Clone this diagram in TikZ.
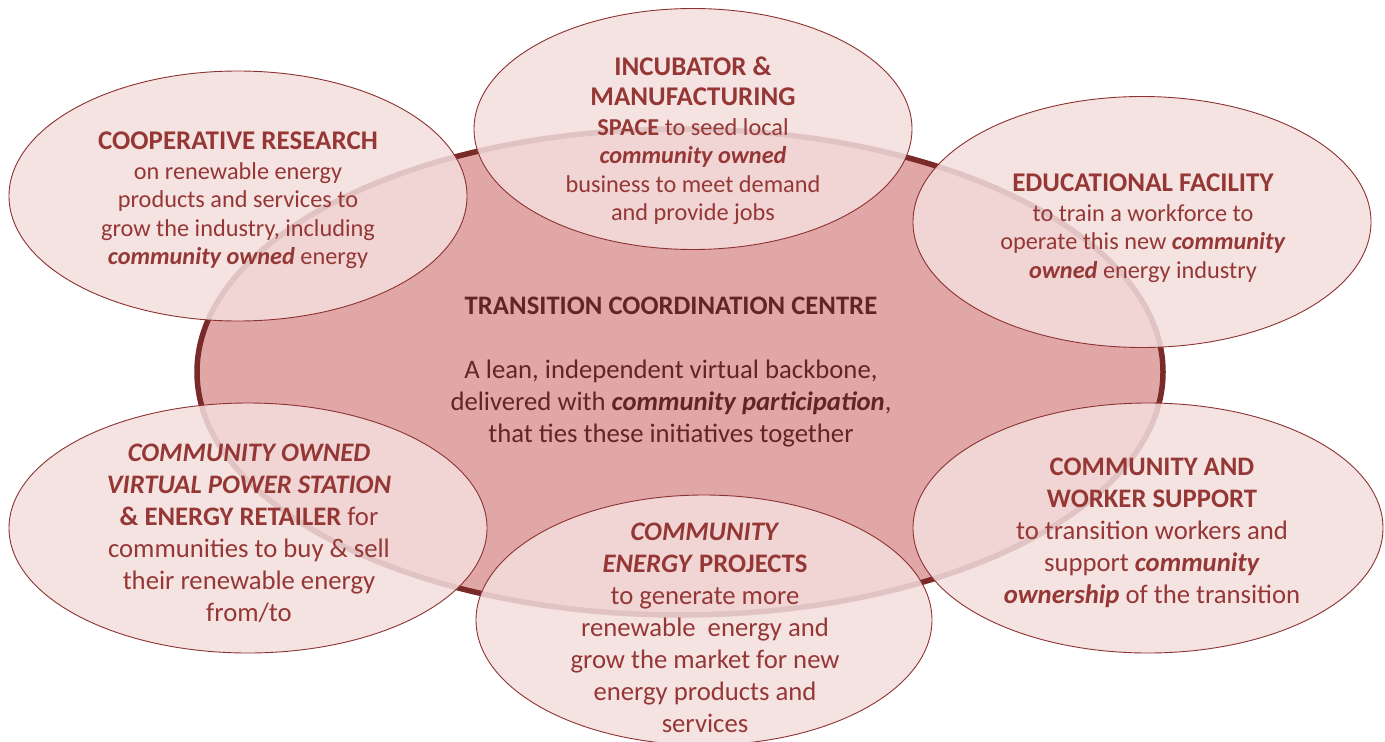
\documentclass[tikz,border=0pt]{standalone}
\usepackage{fontspec}
\setmainfont{Carlito}
\usepackage{tikz}
\usetikzlibrary{shapes,shadows}

\definecolor{hubfill}{RGB}{224,167,166}
\definecolor{hubline}{RGB}{122,42,40}
\definecolor{hubtext}{RGB}{99,37,35}
\definecolor{petalfill}{RGB}{243,222,221}
\definecolor{petalline}{RGB}{140,50,48}
\definecolor{petaltext}{RGB}{149,55,53}

\newcommand{\bi}[1]{\textbf{\textit{#1}}}
\newcommand{\hd}[1]{{\fontsize{27}{28.5}\selectfont\textbf{#1}}}

\begin{document}
\begin{tikzpicture}[x=1pt,y=-1pt,
  hub/.style={ellipse,draw=hubline,line width=5.5pt,fill=hubfill,
    drop shadow={opacity=0.2,shadow xshift=2pt,shadow yshift=-2pt}},
  petal/.style={ellipse,draw=petalline,line width=0.9pt,fill=petalfill,fill opacity=0.85},
  petaltext/.style={align=center,text=petaltext,inner sep=0pt,font=\fontsize{24.3}{28.5}\selectfont},
  lowtext/.style={petaltext,font=\fontsize{26.7}{32}\selectfont}]
  \useasboundingbox (0,0) rectangle (1385,742);

  % centre
  \node[hub,minimum width=966pt,minimum height=486pt] (hub) at (680,372) {};

  % six initiatives round it
  \node[petal,minimum width=458pt,minimum height=250pt] (research) at (238,196) {};
  \node[petal,minimum width=438pt,minimum height=241pt] (incubator) at (693,129) {};
  \node[petal,minimum width=458pt,minimum height=251pt] (education) at (1142,222) {};
  \node[petal,minimum width=478pt,minimum height=250pt] (retailer) at (248,528) {};
  \node[petal,minimum width=456pt,minimum height=250pt] (projects) at (704,620) {};
  \node[petal,minimum width=470pt,minimum height=250pt] (support) at (1148,528) {};

  \node[petaltext] (research-text) at (238,200) {\hd{COOPERATIVE RESEARCH}\\[1.5pt]
    on renewable energy\\ products and services to\\ grow the industry, including\\
    \bi{community owned} energy};
  \node[petaltext] (incubator-text) at (693,141) {\hd{INCUBATOR \&}\\[1.5pt]
    \hd{MANUFACTURING}\\[1.5pt] \textbf{SPACE} to seed local\\ \bi{community owned}\\
    business to meet demand\\ and provide jobs};
  \node[petaltext] (education-text) at (1143,228) {\hd{EDUCATIONAL FACILITY}\\[1pt]
    to train a workforce to\\ operate this new \bi{community}\\ \bi{owned} energy industry};
  \node[lowtext] (retailer-text) at (249,533) {\bi{COMMUNITY OWNED}\\
    \bi{VIRTUAL POWER STATION}\\ \textbf{\& ENERGY RETAILER} for\\
    communities to buy \& sell\\ their renewable energy\\ from/to};
  \node[lowtext] (projects-text) at (705,627.5) {\bi{COMMUNITY}\\
    \textbf{\textit{ENERGY} PROJECTS}\\ to generate more\\ renewable\ \ energy and\\
    grow the market for new\\ energy products and\\ services};
  \node[lowtext] (support-text) at (1152,533) {\textbf{COMMUNITY AND}\\
    \textbf{WORKER SUPPORT}\\ to transition workers and\\ support \bi{community}\\
    \bi{ownership} of the transition};

  \node[lowtext,text=hubtext] (hub-text) at (671,372) {%
    \textbf{TRANSITION COORDINATION CENTRE}\\[32pt]
    A lean, independent virtual backbone,\\
    delivered with \bi{community participation},\\
    that ties these initiatives together};
\end{tikzpicture}
\end{document}
